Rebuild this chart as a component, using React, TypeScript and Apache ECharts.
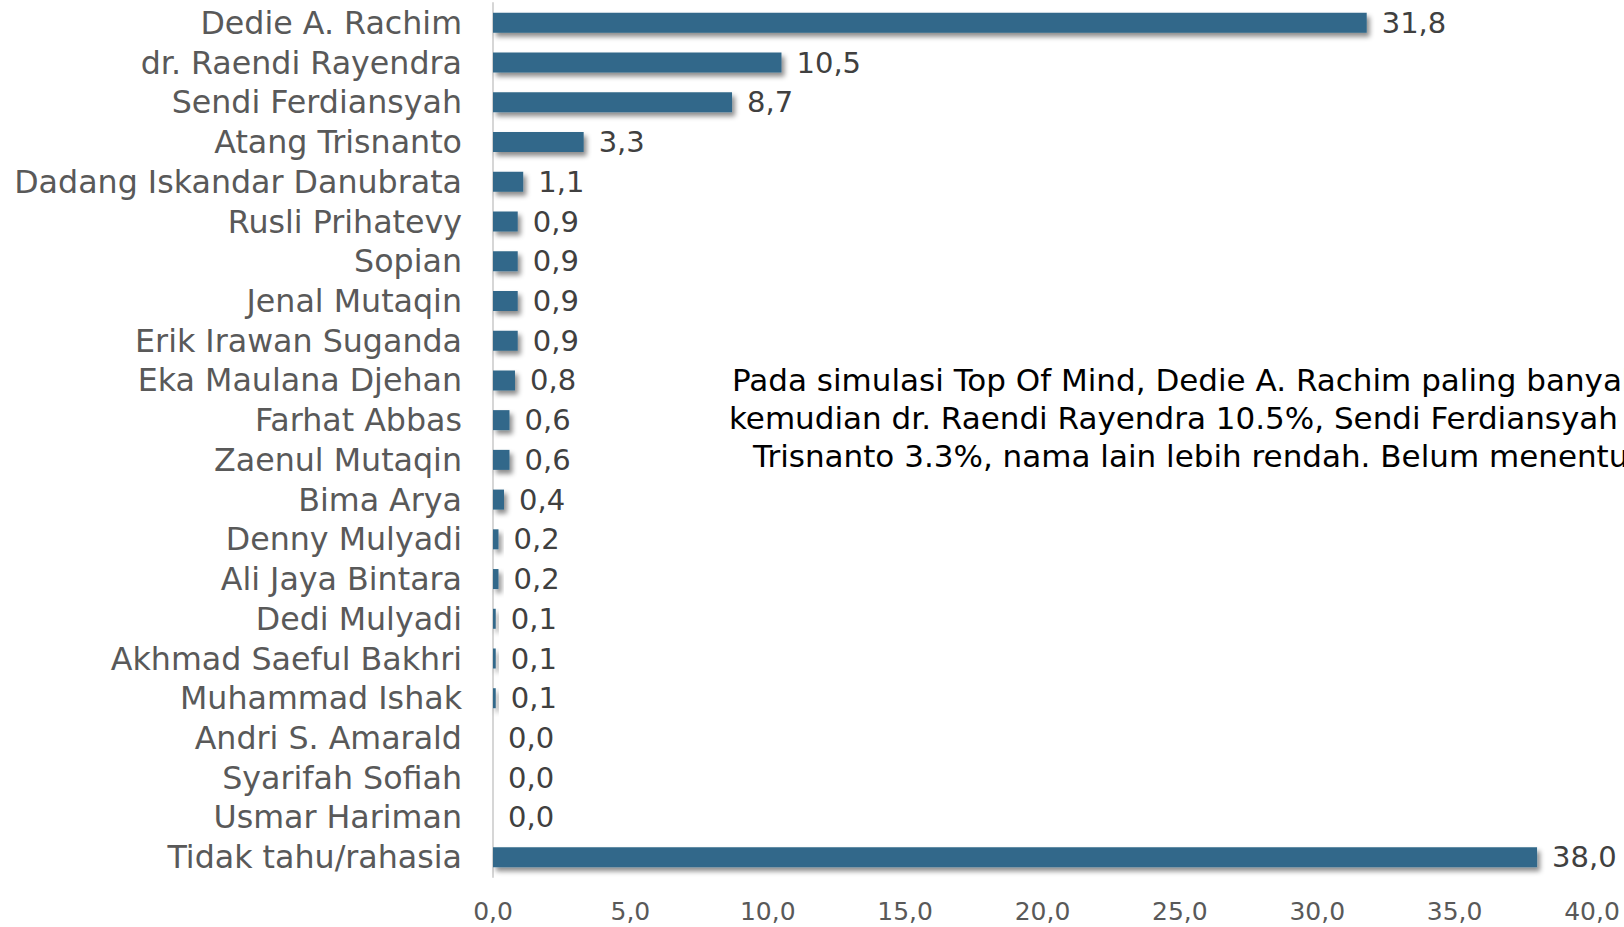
import React, { useEffect, useRef } from "react";
import * as echarts from "echarts";

const categories: string[] = [
  "Dedie A. Rachim",
  "dr. Raendi Rayendra",
  "Sendi Ferdiansyah",
  "Atang Trisnanto",
  "Dadang Iskandar Danubrata",
  "Rusli Prihatevy",
  "Sopian",
  "Jenal Mutaqin",
  "Erik Irawan Suganda",
  "Eka Maulana Djehan",
  "Farhat Abbas",
  "Zaenul Mutaqin",
  "Bima Arya",
  "Denny Mulyadi",
  "Ali Jaya Bintara",
  "Dedi Mulyadi",
  "Akhmad Saeful Bakhri",
  "Muhammad Ishak",
  "Andri S. Amarald",
  "Syarifah Sofiah",
  "Usmar Hariman",
  "Tidak tahu/rahasia",
];

const values: number[] = [
  31.8, 10.5, 8.7, 3.3, 1.1, 0.9, 0.9, 0.9, 0.9, 0.8, 0.6, 0.6, 0.4, 0.2, 0.2,
  0.1, 0.1, 0.1, 0.0, 0.0, 0.0, 38.0,
];

const annotationLines: string[] = [
  "Pada simulasi Top Of Mind, Dedie A. Rachim paling banyak 31.8%,",
  "kemudian dr. Raendi Rayendra 10.5%, Sendi Ferdiansyah 8.7%, Atang",
  "Trisnanto 3.3%, nama lain lebih rendah. Belum menentukan 38.0%.",
];

const FONT = "'DejaVu Sans', sans-serif";
const fmt = (v: number) => v.toFixed(1).replace(".", ",");

export default function App() {
  const ref = useRef<HTMLDivElement>(null);

  useEffect(() => {
    if (!ref.current) return;
    const chart = echarts.init(ref.current, undefined, { renderer: "svg" });
    const lineX = [732, 729, 753];
    const lineY = [380, 418, 456];
    chart.setOption({
      animation: false,
      backgroundColor: "#ffffff",
      grid: { left: 493, right: 32, top: 3, bottom: 50, containLabel: false },
      xAxis: {
        type: "value",
        min: 0,
        max: 40,
        interval: 5,
        splitLine: { show: false },
        axisLine: { show: false },
        axisTick: { show: false },
        axisLabel: {
          formatter: (v: number) => fmt(v),
          fontFamily: FONT,
          fontSize: 25,
          color: "#595959",
          margin: 22,
        },
      },
      yAxis: {
        type: "category",
        data: categories,
        inverse: true,
        axisLine: { show: true, lineStyle: { color: "#d6d6d6", width: 2 } },
        axisTick: { show: false },
        axisLabel: {
          interval: 0,
          fontFamily: FONT,
          fontSize: 31.7,
          color: "#595959",
          margin: 31,
        },
      },
      series: [
        {
          type: "bar",
          data: values,
          barWidth: 20,
          itemStyle: {
            color: "#31688a",
            shadowColor: "rgba(0,0,0,0.45)",
            shadowBlur: 5,
            shadowOffsetX: 3,
            shadowOffsetY: 4,
          },
          label: {
            show: true,
            position: "right",
            distance: 15,
            formatter: (p: any) => fmt(p.value),
            fontFamily: FONT,
            fontSize: 29,
            color: "#404040",
          },
        },
      ],
      graphic: annotationLines.map((t, i) => ({
        type: "text",
        x: lineX[i],
        y: lineY[i],
        style: {
          text: t,
          fontFamily: FONT,
          fontSize: 31,
          fill: "#000000",
          textAlign: "left",
          textVerticalAlign: "middle",
        },
      })),
    });
    return () => chart.dispose();
  }, []);

  return (
    <div
      ref={ref}
      style={{ position: "absolute", left: 0, top: 0, width: 1624, height: 927 }}
    />
  );
}
